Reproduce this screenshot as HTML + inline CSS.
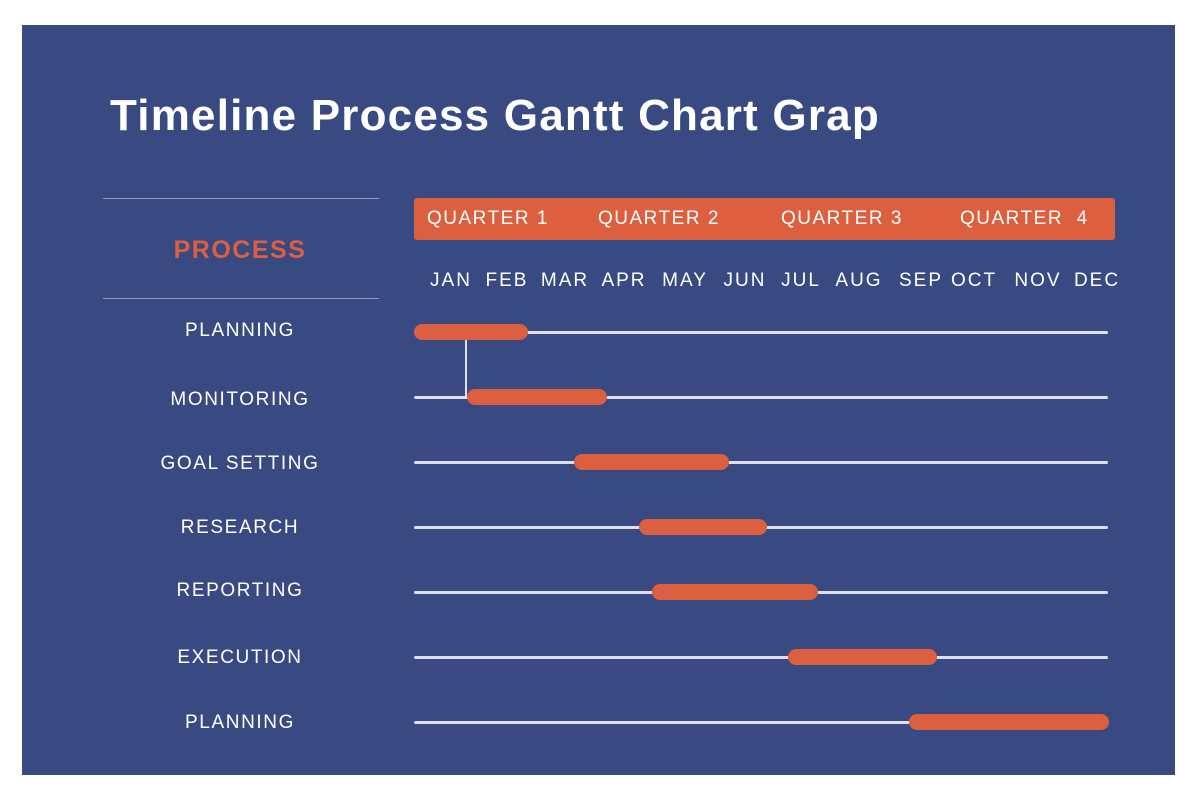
<!DOCTYPE html>
<html><head><style>
body{margin:0;background:#fff;width:1200px;height:801px;position:relative;font-family:"Liberation Sans",sans-serif;overflow:hidden}
.p{position:absolute;left:22px;top:25px;width:1153px;height:750px;background:#394a82}
.t{position:absolute;color:#fff;white-space:nowrap}
.c{position:absolute;transform:translateX(-50%);color:#fff;font-size:19px;white-space:nowrap;letter-spacing:1.6px}
.m{letter-spacing:2px}
.ln{position:absolute;left:414px;width:694px;height:3px;background:#dde0ea;border-radius:2px}
.b{position:absolute;height:16px;background:#dc6040;border-radius:8px}
.hr{position:absolute;left:103px;width:276px;height:1px;background:#8e9ac0}
.q{font-size:19px;letter-spacing:1.5px;top:208px}
</style></head><body>
<div class="p"></div>
<div class="t" style="left:110px;top:91px;font-size:44px;font-weight:bold;letter-spacing:1.2px">Timeline Process Gantt Chart Grap</div>
<div class="hr" style="top:198px"></div>
<div class="hr" style="top:298px"></div>
<div class="c" style="left:240px;top:236px;color:#dc6040;font-weight:bold;font-size:25px;letter-spacing:1.5px">PROCESS</div>
<div style="position:absolute;left:414px;top:198px;width:701px;height:42px;background:#dc6040;border-radius:3px"></div>
<div class="t q" style="left:427px">QUARTER 1</div>
<div class="t q" style="left:598px">QUARTER 2</div>
<div class="t q" style="left:781px">QUARTER 3</div>
<div class="t q" style="left:960px">QUARTER &nbsp;4</div>
<div class="c m" style="left:451px;top:270px">JAN</div>
<div class="c m" style="left:507px;top:270px">FEB</div>
<div class="c m" style="left:565px;top:270px">MAR</div>
<div class="c m" style="left:624px;top:270px">APR</div>
<div class="c m" style="left:685px;top:270px">MAY</div>
<div class="c m" style="left:745px;top:270px">JUN</div>
<div class="c m" style="left:801px;top:270px">JUL</div>
<div class="c m" style="left:859px;top:270px">AUG</div>
<div class="c m" style="left:921px;top:270px">SEP</div>
<div class="c m" style="left:974px;top:270px">OCT</div>
<div class="c m" style="left:1038px;top:270px">NOV</div>
<div class="c m" style="left:1097px;top:270px">DEC</div>
<div class="c" style="left:240px;top:320px">PLANNING</div>
<div class="c" style="left:240px;top:389px">MONITORING</div>
<div class="c" style="left:240px;top:453px">GOAL SETTING</div>
<div class="c" style="left:240px;top:517px">RESEARCH</div>
<div class="c" style="left:240px;top:580px">REPORTING</div>
<div class="c" style="left:240px;top:647px">EXECUTION</div>
<div class="c" style="left:240px;top:712px">PLANNING</div>
<div class="ln" style="top:331px"></div>
<div class="ln" style="top:396px"></div>
<div class="ln" style="top:461px"></div>
<div class="ln" style="top:526px"></div>
<div class="ln" style="top:591px"></div>
<div class="ln" style="top:656px"></div>
<div class="ln" style="top:721px"></div>
<div style="position:absolute;left:465px;top:340px;width:2px;height:57px;background:#dde0ea"></div>
<div class="b" style="left:414px;top:324px;width:114px"></div>
<div class="b" style="left:467px;top:389px;width:140px"></div>
<div class="b" style="left:574px;top:454px;width:155px"></div>
<div class="b" style="left:639px;top:519px;width:128px"></div>
<div class="b" style="left:652px;top:584px;width:166px"></div>
<div class="b" style="left:788px;top:649px;width:149px"></div>
<div class="b" style="left:909px;top:714px;width:200px"></div>
</body></html>
